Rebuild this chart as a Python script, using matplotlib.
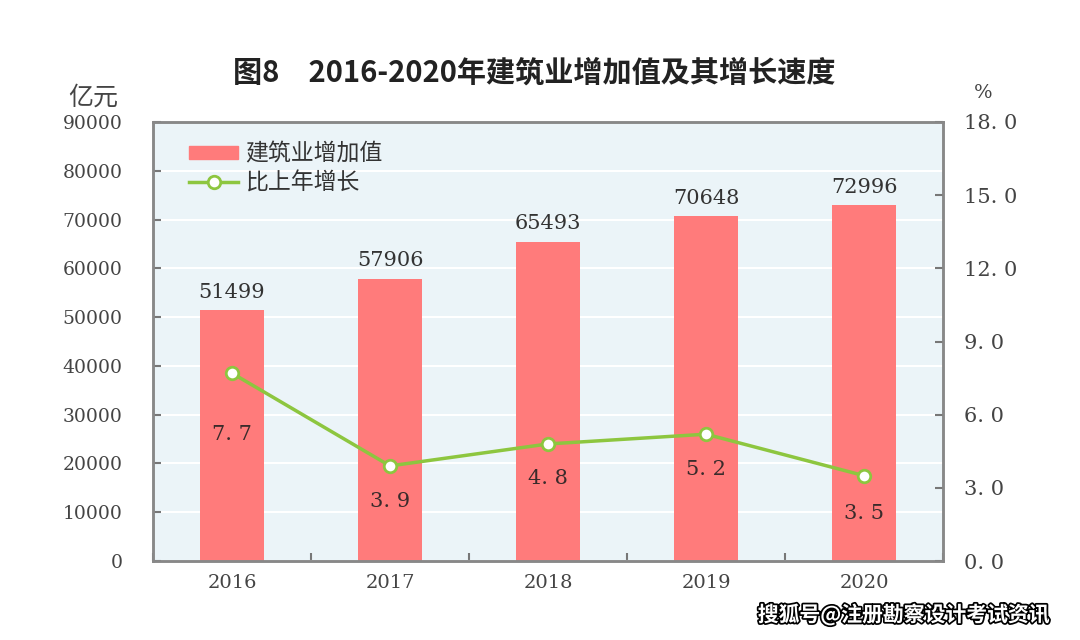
import numpy as np
import matplotlib.pyplot as plt
import matplotlib.patheffects as pe
from matplotlib.lines import Line2D
from matplotlib.patches import Patch

plt.rcParams['font.family'] = ['Noto Sans CJK SC', 'DejaVu Sans']

# data
years = ['2016', '2017', '2018', '2019', '2020']
value_added = [51499, 57906, 65493, 70648, 72996]   # 亿元
growth = [7.7, 3.9, 4.8, 5.2, 3.5]                  # %

bar_color = '#FF7B7B'
line_color = '#8DC63F'
num_font = 'DejaVu Serif'
# how far below each point its label sits (right-axis units)
label_drop = [2.5, 1.45, 1.4, 1.45, 1.55]

fig = plt.figure(figsize=(10.8, 6.4), dpi=100)
ax = fig.add_axes([0.1417, 0.1234, 0.7315, 0.686])
ax.set_facecolor('#EBF4F8')
x = np.arange(len(years))

ax.bar(x, value_added, width=0.4, color=bar_color, zorder=2)
for xi, v in zip(x, value_added):
    ax.text(xi, v + 1700, str(v), ha='center', va='bottom', fontsize=15,
            family=num_font, color='#333333')

ax.set_xlim(-0.5, len(years) - 0.5)
ax.set_ylim(0, 90000)
ax.set_yticks(np.arange(0, 90001, 10000))
ax.yaxis.grid(True, color='white', linewidth=1.5, zorder=0)
ax.set_axisbelow(True)
ax.set_xticks(x)
ax.set_xticklabels(years, family=num_font, fontsize=14, color='#444444')
ax.set_xticks(np.arange(-0.5, len(years), 1), minor=True)
ax.tick_params(axis='x', which='major', length=0, pad=9)
ax.tick_params(axis='x', which='minor', direction='in', length=6, color='#777777', width=1.5)
ax.tick_params(axis='y', direction='in', length=6, color='#777777', width=1.5,
               labelsize=13.5, labelcolor='#444444', pad=22)
for lab in ax.get_yticklabels():
    lab.set_family(num_font)
for s in ax.spines.values():
    s.set_color('#888888')
    s.set_linewidth(1.8)

ax2 = ax.twinx()
ax2.plot(x, growth, color=line_color, linewidth=2.5, marker='o', markersize=9,
         markerfacecolor='white', markeredgecolor=line_color, markeredgewidth=2, zorder=3)
for xi, g, d in zip(x, growth, label_drop):
    ax2.text(xi, g - d, f'{g:.1f}'.replace('.', '. '), ha='center', va='center',
             fontsize=15, family=num_font, color='#3a2b2b')
ax2.set_ylim(0, 18)
ax2.set_yticks(np.arange(0, 18.1, 3))
ax2.set_yticklabels([f'{t:.1f}'.replace('.', '. ') for t in np.arange(0, 18.1, 3)],
                    family=num_font)
ax2.tick_params(axis='y', direction='in', length=6, color='#777777', width=1.5,
                labelsize=15, labelcolor='#444444', pad=15)
for s in ax2.spines.values():
    s.set_color('#888888')
    s.set_linewidth(1.8)

handles = [Patch(color=bar_color),
           Line2D([0], [0], color=line_color, linewidth=2.5, marker='o', markersize=9,
                  markerfacecolor='white', markeredgecolor=line_color, markeredgewidth=2)]
ax.legend(handles, ['建筑业增加值', '比上年增长'], loc='upper left',
          bbox_to_anchor=(0.02, 1.0), frameon=False, fontsize=16.5,
          handlelength=2.1, handleheight=0.55, labelspacing=0.25, handletextpad=0.35,
          labelcolor='#333333')

fig.text(0.495, 0.887, '图8　2016-2020年建筑业增加值及其增长速度', ha='center', va='center',
         fontsize=21, color='#222222', fontweight='bold')
fig.text(0.086, 0.848, '亿元', ha='center', va='center', fontsize=18, color='#444444')
fig.text(0.91, 0.855, '%', ha='center', va='center', fontsize=14, color='#444444',
         family=num_font)

fig.text(0.837, 0.04, '搜狐号@注册勘察设计考试资讯', ha='center', va='center',
         fontsize=15, color='white', fontweight='bold',
         path_effects=[pe.withStroke(linewidth=2.5, foreground='black')])

fig.savefig('out.png', dpi=100)
